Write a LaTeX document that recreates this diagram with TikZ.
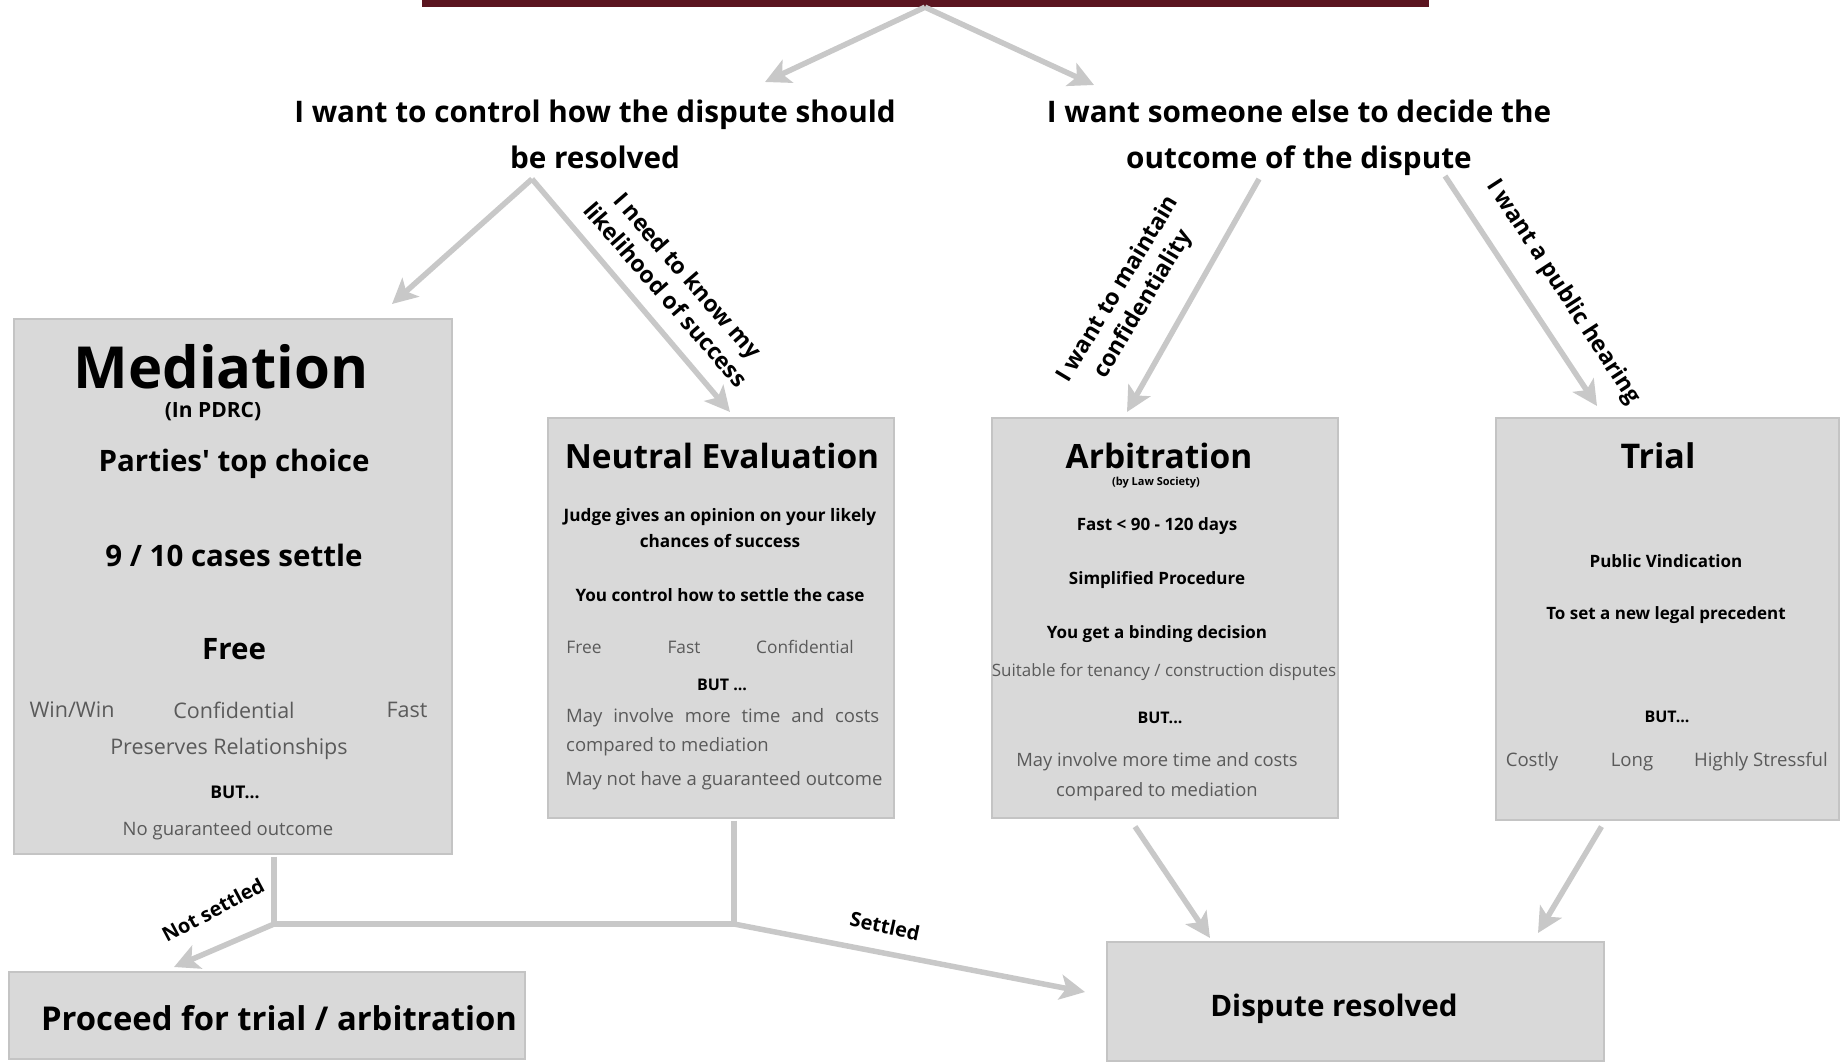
\documentclass[tikz,border=0pt]{standalone}
\usepackage{fontspec}
\setmainfont{Open Sans}
\usetikzlibrary{arrows.meta,calc}
\definecolor{barred}{HTML}{5B1520}
\definecolor{boxfill}{HTML}{D9D9D9}
\definecolor{boxline}{HTML}{C4C4C4}
\definecolor{arrowgray}{HTML}{C8C8C8}
\definecolor{subgray}{HTML}{5A5A5A}
\newcommand\myfs[2]{\fontsize{#1}{#2}\selectfont}
\begin{document}
\begin{tikzpicture}[x=1pt,y=-1pt,
  box/.style={draw=boxline,fill=boxfill,line width=1.2pt,inner sep=0pt},
  bt/.style={inner sep=0pt,font=\bfseries,text=black,align=center},
  gt/.style={inner sep=0pt,text=subgray,align=center},
  lbl/.style={inner sep=0pt,font=\bfseries\myfs{23}{29},align=center},
  arr/.style={draw=arrowgray,line width=5.5pt,-{Stealth[length=25pt,width=25pt,inset=6pt]}},
  ln/.style={draw=arrowgray,line width=5.5pt}]
\useasboundingbox (0,0) rectangle (1845,1061);
% top bar
\node[fill=barred,inner sep=0pt,minimum width=1007pt,minimum height=7pt] (top) at (925,3.5) {};
% questions
\node[bt,font=\bfseries\myfs{29.7}{46}] (q1) at (595,134) {I want to control how the dispute should\\be resolved};
\node[bt,font=\bfseries\myfs{29.7}{46}] (q2) at (1299,137.5) {I want someone else to decide the\\outcome of the dispute};
% boxes
\node[box,minimum width=438pt,minimum height=535pt] (med) at (233,586.5) {};
\node[box,minimum width=346pt,minimum height=400pt] (ne) at (721,618) {};
\node[box,minimum width=346pt,minimum height=400pt] (arb) at (1165,618) {};
\node[box,minimum width=343pt,minimum height=402pt] (trial) at (1667.5,619) {};
\node[box,minimum width=516pt,minimum height=87pt] (proc) at (267,1015.5) {};
\node[box,minimum width=497pt,minimum height=119pt] (res) at (1355.5,1001.5) {};
% Mediation text
\node[bt,font=\bfseries\myfs{58}{66}] (mt) at (221,367) {Mediation};
\node[bt,font=\bfseries\myfs{21}{24}] (m1) at (213,412) {(In PDRC)};
\node[bt,font=\bfseries\myfs{29.5}{34}] (m2) at (234,464) {{\addfontfeature{Ligatures=TeXOff}Parties'} top choice};
\node[bt,font=\bfseries\myfs{29.5}{34}] (m3) at (234,555) {9 / 10 cases settle};
\node[bt,font=\bfseries\myfs{29.5}{34}] (m4) at (234,649) {Free};
\node[gt,font=\myfs{21.5}{24}] (m5a) at (72,710) {Win/Win};
\node[gt,font=\myfs{21.5}{24}] (m5b) at (234,710) {Confidential};
\node[gt,font=\myfs{21.5}{24}] (m5c) at (407,710) {Fast};
\node[gt,font=\myfs{21.5}{24}] (m6) at (229,749) {Preserves Relationships};
\node[bt,font=\bfseries\myfs{17.5}{20}] (m7) at (235,792) {BUT...};
\node[gt,font=\myfs{18.5}{20}] (m8) at (228,831) {No guaranteed outcome};
% Neutral evaluation text
\node[bt,font=\bfseries\myfs{33.4}{38}] (nt) at (722,456) {Neutral Evaluation};
\node[bt,font=\bfseries\myfs{17.2}{26}] (n1) at (720,528) {Judge gives an opinion on your likely\\chances of success};
\node[bt,font=\bfseries\myfs{17.1}{20}] (n2) at (720,595) {You control how to settle the case};
\node[gt,font=\myfs{17.3}{20}] (n3a) at (584,647) {Free};
\node[gt,font=\myfs{17.3}{20}] (n3b) at (684,647) {Fast};
\node[gt,font=\myfs{17.3}{20}] (n3c) at (805,647) {Confidential};
\node[bt,font=\bfseries\myfs{16}{20}] (n4) at (722,685) {BUT ...};
\node[gt,font=\myfs{18.5}{29.5},align=left,anchor=west] (n5) at (566,732) {\makebox[313pt][s]{May involve more time and costs}\\compared to mediation};
\node[gt,font=\myfs{18.5}{20}] (n6) at (724,781) {May not have a guaranteed outcome};
% Arbitration text
\node[bt,font=\bfseries\myfs{33.5}{38}] (at) at (1159,456) {Arbitration};
\node[bt,font=\bfseries\myfs{11}{13}] (a1) at (1156,483) {(by Law Society)};
\node[bt,font=\bfseries\myfs{17}{20}] (a2) at (1157,526) {Fast < 90 - 120 days};
\node[bt,font=\bfseries\myfs{17}{20}] (a3) at (1157,580) {Simplified Procedure};
\node[bt,font=\bfseries\myfs{17}{20}] (a4) at (1157,634) {You get a binding decision};
\node[gt,font=\myfs{17}{20}] (a5) at (1164,672) {Suitable for tenancy / construction disputes};
\node[bt,font=\bfseries\myfs{16}{20}] (a6) at (1160,718) {BUT...};
\node[gt,font=\myfs{18.4}{29.5}] (a7) at (1157,776.5) {May involve more time and costs\\compared to mediation};
% Trial text
\node[bt,font=\bfseries\myfs{34}{38}] (tt) at (1658,456) {Trial};
\node[bt,font=\bfseries\myfs{17}{20}] (t1) at (1666,561) {Public Vindication};
\node[bt,font=\bfseries\myfs{17}{20}] (t2) at (1666,615) {To set a new legal precedent};
\node[bt,font=\bfseries\myfs{16}{20}] (t3) at (1667,717) {BUT...};
\node[gt,font=\myfs{18.6}{20}] (t4a) at (1532,762) {Costly};
\node[gt,font=\myfs{18.6}{20}] (t4b) at (1632,762) {Long};
\node[gt,font=\myfs{18.6}{20}] (t4c) at (1761,762) {Highly Stressful};
% bottom texts
\node[bt,font=\bfseries\myfs{32.8}{38}] (pt) at (279,1018) {Proceed for trial / arbitration};
\node[bt,font=\bfseries\myfs{29.6}{36}] (rt) at (1334,1008.5) {Dispute resolved};
% connector coordinates
\coordinate (q1s) at (532,179);
\coordinate (q2a) at (1259,179);
\coordinate (q2b) at (1445,176);
\coordinate (medin) at (392,304);
\coordinate (nein) at (730,412);
\coordinate (arbin) at (1127,412);
\coordinate (trin) at (1597,406);
\coordinate (q1in) at (765,82);
\coordinate (q2in) at (1094,85);
\coordinate (j1) at (274,924);
\coordinate (j2) at (734,924);
\coordinate (procin) at (174,967);
\coordinate (resin) at (1085,992);
\coordinate (resin2) at (1210,938);
\coordinate (resin3) at (1538,933);
% connectors
\draw[arr] (top.south) -- (q1in);
\draw[arr] (top.south) -- (q2in);
\draw[arr] (q1s) -- (medin);
\draw[arr] (q1s) -- (nein);
\draw[arr] (q2a) -- (arbin);
\draw[arr] (q2b) -- (trin);
\draw[ln] ($(med.south)+(41,2)$) -- (j1) -- (j2);
\draw[ln] ($(ne.south)+(13,2)$) -- (j2);
\draw[arr] (j1) -- (procin);
\draw[arr] (j2) -- (resin);
\draw[arr] ($(arb.south)+(-30,8)$) -- (resin2);
\draw[arr] ($(trial.south)+(-66,6)$) -- (resin3);
% connector labels
\node[lbl,rotate=-49] (l1) at (677,285) {I need to know my\\likelihood of success};
\node[lbl,rotate=59] (l2) at (1131,297) {I want to maintain\\confidentiality};
\node[lbl,rotate=-57] (l3) at (1563,292) {I want a public hearing};
\node[lbl,font=\bfseries\myfs{20}{25},rotate=28] (l4) at (213,910) {Not settled};
\node[lbl,font=\bfseries\myfs{20}{25},rotate=-12] (l5) at (885,926) {Settled};
\end{tikzpicture}
\end{document}
